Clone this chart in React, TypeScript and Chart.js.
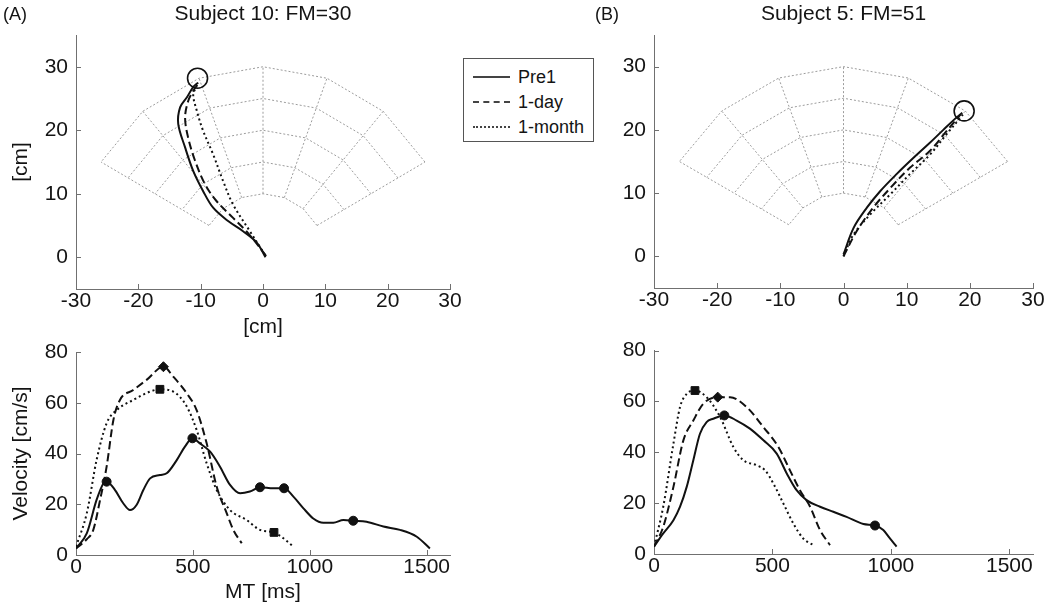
import React, { useEffect, useRef } from "react";
import { Chart, registerables } from "chart.js";

Chart.register(...registerables);

const FONT = "'Liberation Sans', Arial, sans-serif";
const TEXT = "#141414";
const AXIS = "#707070";
const GRID = "#9c9c9c";
const INK = "#111111";

// ---- workspace grid (polar) ----
const gridRadii = [10, 15, 20, 25, 30];
const gridAngles = [30, 50, 70, 90, 110, 130, 150];

// ---- axis ticks ----
const posTicksX = [-30, -20, -10, 0, 10, 20, 30];
const posTicksY = [0, 10, 20, 30];
const velTicksX = [0, 500, 1000, 1500];
const velTicksY = [0, 20, 40, 60, 80];

// ---- Subject 10 trajectories (cm) ----
const s10PreX = [0.4, -1.0, -3.2, -5.6, -8.0, -9.6, -11.2, -12.5, -13.6, -13.3, -12.2, -11.2, -10.4];
const s10PreY = [0.0, 2.3, 4.1, 5.7, 7.8, 10.4, 13.6, 17.3, 21.0, 23.6, 25.2, 26.8, 27.5];
const s10DayX = [0.5, -0.5, -2.4, -4.8, -7.5, -9.3, -10.9, -12.0, -12.5, -12.0, -11.2, -10.4];
const s10DayY = [0.2, 1.5, 3.8, 6.2, 8.9, 11.5, 15.2, 18.8, 22.0, 24.6, 26.2, 27.3];
const s10MonX = [0.3, -2.1, -4.8, -6.4, -8.0, -9.6, -10.6, -11.2, -10.6];
const s10MonY = [0.4, 4.1, 8.3, 12.0, 16.2, 19.9, 23.0, 25.7, 26.9];
const s10Target = [-10.5, 28.2];

// ---- Subject 5 trajectories (cm) ----
const s5PreX = [0.0, 1.6, 3.7, 5.8, 8.4, 11.0, 13.5, 15.8, 17.6, 18.8];
const s5PreY = [0.3, 4.5, 7.7, 10.3, 13.0, 15.5, 17.8, 20.0, 21.7, 22.7];
const s5DayX = [0.0, 2.1, 4.7, 7.4, 10.5, 13.7, 16.3, 18.5];
const s5DayY = [0.0, 4.0, 7.7, 10.8, 14.0, 16.7, 19.8, 22.4];
const s5MonX = [0.0, 1.55, 4.2, 7.4, 10.5, 13.7, 16.3, 18.9];
const s5MonY = [0.0, 3.4, 6.6, 9.8, 13.0, 16.1, 19.3, 22.4];
const s5Target = [19.1, 23.0];

// ---- Subject 10 velocity (ms, cm/s) ----
const v10PreT = [0, 46, 88, 117, 131, 167, 202, 231, 259, 288, 317, 359, 388, 431, 466, 498, 530, 574, 616, 659, 702, 744, 787, 844, 890, 930, 973, 1015, 1058, 1101, 1144, 1186, 1243, 1315, 1386, 1458, 1514];
const v10PreV = [2.6, 8.5, 21.7, 28.2, 28.9, 25.6, 20.4, 17.7, 19.7, 25.6, 30.2, 31.5, 32.2, 37.4, 42.7, 46, 44, 40.7, 34.8, 27.6, 24.3, 25, 26.7, 26.3, 26.3, 23, 18.4, 14.4, 12.7, 12.7, 13.8, 13.5, 13.1, 11.2, 9.9, 7.2, 2.6];
const v10DayT = [0, 46, 74, 103, 131, 160, 188, 245, 302, 374, 416, 474, 516, 559, 602, 645, 673, 709];
const v10DayV = [2.6, 6.2, 9.9, 21.7, 34.8, 53.2, 61.1, 65, 69, 74.2, 70.3, 63.7, 57.1, 44, 26.9, 16.4, 9.9, 4.6];
const v10MonT = [0, 46, 88, 131, 174, 245, 317, 359, 416, 474, 516, 559, 602, 659, 730, 787, 847, 887, 930];
const v10MonV = [3.3, 16.4, 37.4, 51.9, 57.1, 61.1, 64.4, 65.3, 64.4, 58.5, 49.3, 36.1, 25.6, 17.7, 13.8, 9.9, 8.9, 6.6, 3.3];
const m10PreT = [131, 498, 787, 890, 1186];
const m10PreV = [28.9, 46, 26.7, 26.3, 13.5];
const m10DayT = [374];
const m10DayV = [74.2];
const m10MonT = [359, 847];
const m10MonV = [65.3, 8.9];

// ---- Subject 5 velocity (ms, cm/s) ----
const v5PreT = [0, 39, 82, 110, 138, 166, 194, 222, 250, 297, 349, 405, 462, 518, 561, 602, 644, 701, 757, 813, 884, 933, 968, 996, 1024];
const v5PreV = [2.9, 8.1, 13.3, 18.6, 26.4, 36.9, 47.3, 51.9, 53.2, 54.5, 52.5, 49.3, 44.7, 39.5, 31.6, 25.1, 21.2, 18.6, 16.6, 14.6, 11.8, 11.2, 9.4, 6.1, 2.9];
const v5DayT = [0, 39, 82, 124, 166, 208, 269, 321, 391, 462, 525, 574, 616, 659, 701, 743];
const v5DayV = [2.9, 10.7, 26.4, 44.7, 52.5, 59.1, 61.7, 61.7, 57.8, 49.9, 42.1, 32.9, 25.1, 18.6, 9.4, 3.5];
const v5MonT = [0, 39, 82, 110, 138, 173, 222, 279, 335, 377, 433, 469, 504, 546, 588, 630, 673];
const v5MonV = [2.9, 18.6, 43.4, 57.8, 63, 64.3, 61.7, 53.9, 42.1, 36.9, 34.9, 32.9, 27.7, 19.9, 12, 6.1, 3.5];
const m5PreT = [297, 933];
const m5PreV = [54.5, 11.2];
const m5DayT = [269];
const m5DayV = [61.7];
const m5MonT = [173];
const m5MonV = [64.3];

const legendLabels = ["Pre1", "1-day", "1-month"];

// ---------------------------------------------------------------
const zip = (xs: number[], ys: number[]) => xs.map((x, i) => ({ x, y: ys[i] }));
const rad = (a: number) => (a * Math.PI) / 180;

const DASH_DAY = [8, 4];
const DASH_MON = [2, 3];
const FS = 21;

function lineDs(xs: number[], ys: number[], dash: number[], mono: boolean) {
  return {
    data: zip(xs, ys),
    showLine: true,
    borderColor: INK,
    borderWidth: 2,
    borderDash: dash,
    pointRadius: 0,
    tension: mono ? 0 : 0.35,
    cubicInterpolationMode: mono ? "monotone" : "default",
    order: 1,
  };
}

function markerDs(xs: number[], ys: number[], style: string, r: number) {
  return {
    data: zip(xs, ys),
    showLine: false,
    pointStyle: style,
    pointRadius: r,
    pointBackgroundColor: INK,
    pointBorderColor: INK,
    pointBorderWidth: 1,
    order: 0,
  };
}

function gridDatasets() {
  const ds: any[] = [];
  const style = {
    showLine: true,
    borderColor: GRID,
    borderWidth: 1,
    borderDash: [2, 2],
    pointRadius: 0,
    tension: 0,
    order: 5,
  };
  gridRadii.forEach((r) => {
    ds.push({ ...style, data: gridAngles.map((a) => ({ x: r * Math.cos(rad(a)), y: r * Math.sin(rad(a)) })) });
  });
  gridAngles.forEach((a) => {
    ds.push({ ...style, data: gridRadii.map((r) => ({ x: r * Math.cos(rad(a)), y: r * Math.sin(rad(a)) })) });
  });
  return ds;
}

function targetDs(p: number[]) {
  return {
    data: [{ x: p[0], y: p[1] }],
    showLine: false,
    pointStyle: "circle",
    pointRadius: 10,
    pointBackgroundColor: "rgba(0,0,0,0)",
    pointBorderColor: INK,
    pointBorderWidth: 1.6,
    order: 0,
  };
}

const inwardTicks = {
  id: "inwardTicks",
  afterDraw(chart: any) {
    const { ctx, chartArea } = chart;
    const xs = chart.scales.x;
    const ys = chart.scales.y;
    ctx.save();
    ctx.strokeStyle = AXIS;
    ctx.lineWidth = 1;
    xs.ticks.forEach((t: any) => {
      const px = Math.round(xs.getPixelForValue(t.value)) + 0.5;
      ctx.beginPath();
      ctx.moveTo(px, chartArea.bottom);
      ctx.lineTo(px, chartArea.bottom - 5);
      ctx.stroke();
    });
    ys.ticks.forEach((t: any) => {
      const py = Math.round(ys.getPixelForValue(t.value)) + 0.5;
      ctx.beginPath();
      ctx.moveTo(chartArea.left, py);
      ctx.lineTo(chartArea.left + 5, py);
      ctx.stroke();
    });
    ctx.restore();
  },
};

function axis(
  isX: boolean,
  min: number,
  max: number,
  tickVals: number[],
  fit: number,
  title: string,
  titlePad: any
) {
  return {
    type: "linear",
    min,
    max,
    afterBuildTicks: (s: any) => {
      s.ticks = tickVals.map((v) => ({ value: v }));
    },
    afterFit: (s: any) => {
      if (isX) s.height = fit;
      else s.width = fit;
    },
    grid: { display: false, drawTicks: false },
    border: { display: true, color: AXIS, width: 1 },
    ticks: {
      color: TEXT,
      font: { family: FONT, size: FS },
      padding: isX ? 0 : 8,
      maxRotation: 0,
      autoSkip: false,
      callback: (v: any) => String(v),
    },
    title: {
      display: !!title,
      text: title,
      color: TEXT,
      font: { family: FONT, size: FS },
      padding: titlePad,
    },
  };
}

type PanelSpec = {
  left: number;
  top: number;
  width: number;
  height: number;
  make: () => any;
};

function Panel({ left, top, width, height, make }: PanelSpec) {
  const ref = useRef<HTMLCanvasElement>(null);
  useEffect(() => {
    const chart = new Chart(ref.current as HTMLCanvasElement, make());
    return () => chart.destroy();
  }, []);
  return (
    <canvas
      ref={ref}
      width={width}
      height={height}
      style={{ position: "absolute", left, top, width, height }}
    />
  );
}

function baseOptions(padding: any, title: string, xScale: any, yScale: any) {
  return {
    responsive: false,
    animation: false,
    layout: { padding },
    plugins: {
      legend: { display: false },
      tooltip: { enabled: false },
      title: {
        display: !!title,
        text: title,
        color: TEXT,
        font: { family: FONT, size: FS, weight: "normal", lineHeight: 1.2 },
        padding: { top: 2, bottom: 7.8 },
        fullSize: false,
      },
    },
    scales: { x: xScale, y: yScale },
  };
}

const makeTL = () => ({
  type: "scatter",
  data: {
    datasets: [
      targetDs(s10Target),
      lineDs(s10PreX, s10PreY, [], false),
      lineDs(s10DayX, s10DayY, DASH_DAY, false),
      lineDs(s10MonX, s10MonY, DASH_MON, false),
      ...gridDatasets(),
    ],
  },
  options: baseOptions(
    { left: 0, right: 75, top: 0, bottom: 0 },
    "Subject 10: FM=30",
    axis(true, -30, 30, posTicksX, 51, "[cm]", { top: 0, bottom: 0 }),
    axis(false, -5, 35, posTicksY, 76, "[cm]", { top: 9, bottom: 0 })
  ),
  plugins: [inwardTicks],
});

const makeTR = () => ({
  type: "scatter",
  data: {
    datasets: [
      targetDs(s5Target),
      lineDs(s5PreX, s5PreY, [], false),
      lineDs(s5DayX, s5DayY, DASH_DAY, false),
      lineDs(s5MonX, s5MonY, DASH_MON, false),
      ...gridDatasets(),
    ],
  },
  options: baseOptions(
    { left: 53, right: 17, top: 0, bottom: 0 },
    "Subject 5: FM=51",
    axis(true, -30, 30, posTicksX, 52, "", { top: 0, bottom: 0 }),
    axis(false, -5, 35, posTicksY, 76, "", { top: 0, bottom: 0 })
  ),
  plugins: [inwardTicks],
});

const makeBL = () => ({
  type: "scatter",
  data: {
    datasets: [
      markerDs(m10PreT, m10PreV, "circle", 4.5),
      markerDs(m10DayT, m10DayV, "rectRot", 5),
      markerDs(m10MonT, m10MonV, "rect", 5.5),
      lineDs(v10PreT, v10PreV, [], true),
      lineDs(v10DayT, v10DayV, DASH_DAY, true),
      lineDs(v10MonT, v10MonV, DASH_MON, true),
    ],
  },
  options: baseOptions(
    { left: 0, right: 75, top: 22, bottom: 0 },
    "",
    axis(true, 0, 1600, velTicksX, 55, "MT [ms]", { top: 0, bottom: 5 }),
    axis(false, 0, 80, velTicksY, 76, "Velocity [cm/s]", { top: 9, bottom: 0 })
  ),
  plugins: [inwardTicks],
});

const makeBR = () => ({
  type: "scatter",
  data: {
    datasets: [
      markerDs(m5PreT, m5PreV, "circle", 4.5),
      markerDs(m5DayT, m5DayV, "rectRot", 5),
      markerDs(m5MonT, m5MonV, "rect", 5.5),
      lineDs(v5PreT, v5PreV, [], true),
      lineDs(v5DayT, v5DayV, DASH_DAY, true),
      lineDs(v5MonT, v5MonV, DASH_MON, true),
    ],
  },
  options: baseOptions(
    { left: 53, right: 17, top: 20, bottom: 0 },
    "",
    axis(true, 0, 1600, velTicksX, 56, "", { top: 0, bottom: 0 }),
    axis(false, 0, 80, velTicksY, 76, "", { top: 0, bottom: 0 })
  ),
  plugins: [inwardTicks],
});

const legendStyles = [
  { borderTop: "2px solid #444" },
  { borderTop: "2px dashed #444" },
  { borderTop: "2px dotted #444" },
];

export default function App() {
  return (
    <div
      style={{
        position: "absolute",
        left: 0,
        top: 0,
        width: 1050,
        height: 610,
        background: "#fff",
        overflow: "hidden",
        fontFamily: FONT,
        color: TEXT,
      }}
    >
      <Panel left={0} top={0} width={525} height={340} make={makeTL} />
      <Panel left={525} top={0} width={525} height={340} make={makeTR} />
      <Panel left={0} top={330} width={525} height={280} make={makeBL} />
      <Panel left={525} top={330} width={525} height={280} make={makeBR} />

      <div style={{ position: "absolute", left: 3, top: 3, fontSize: 18, lineHeight: "22px" }}>(A)</div>
      <div style={{ position: "absolute", left: 595, top: 3, fontSize: 18, lineHeight: "22px" }}>(B)</div>

      <div
        style={{
          position: "absolute",
          left: 463,
          top: 58,
          width: 131,
          height: 84,
          border: "1px solid #555",
          background: "#fff",
          boxSizing: "border-box",
        }}
      >
        {legendLabels.map((lab, i) => (
          <div
            key={lab}
            style={{ position: "absolute", left: 9, top: 7 + i * 25, height: 22, display: "flex", alignItems: "center" }}
          >
            <div style={{ width: 37, height: 0, ...legendStyles[i] }} />
            <span style={{ marginLeft: 8, fontSize: 18, lineHeight: "22px" }}>{lab}</span>
          </div>
        ))}
      </div>
    </div>
  );
}
